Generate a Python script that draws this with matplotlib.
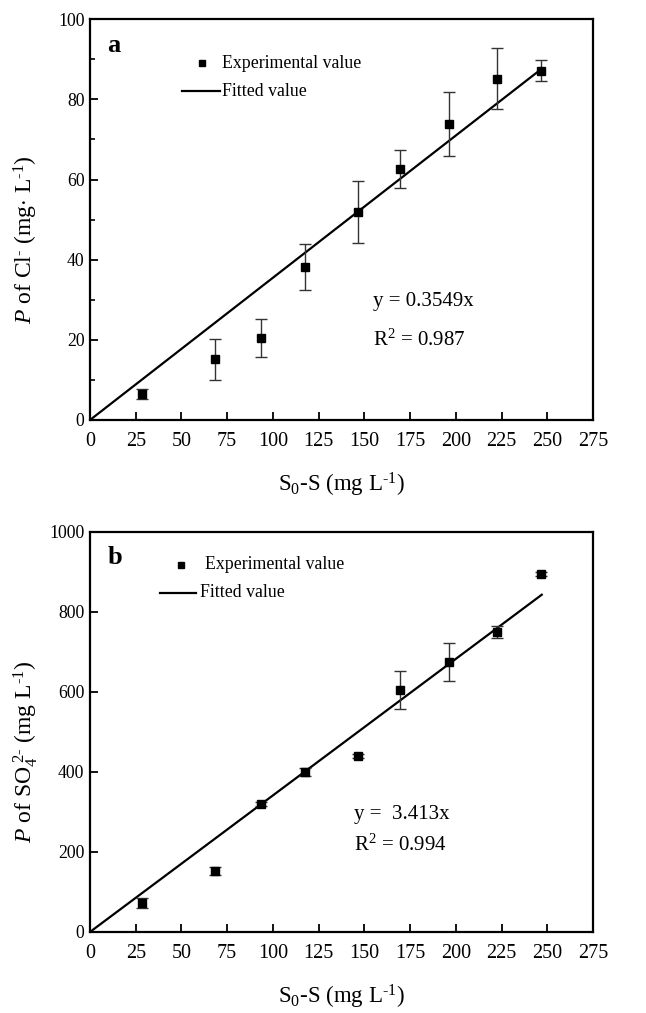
import numpy as np
import matplotlib.pyplot as plt

plt.rcParams['font.family'] = 'Liberation Serif'
plt.rcParams['mathtext.fontset'] = 'custom'
plt.rcParams['mathtext.rm'] = 'Liberation Serif'
plt.rcParams['mathtext.it'] = 'Liberation Serif:italic'
plt.rcParams['mathtext.bf'] = 'Liberation Serif:bold'

# data
x_vals = [28.3, 68.3, 93.5, 117.5, 146.5, 169.5, 196.5, 222.5, 246.5]
cl_vals = [6.5, 15.1, 20.5, 38.2, 51.9, 62.7, 73.8, 85.2, 87.2]
cl_err = [1.2, 5.1, 4.7, 5.8, 7.8, 4.7, 8.0, 7.7, 2.6]
so4_vals = [72, 152, 320, 400, 440, 605, 675, 750, 895]
so4_err = [12, 10, 6, 10, 5, 48, 47, 15, 4]
cl_slope = 0.3549
so4_slope = 3.413
fit_x = [0, 247]

x_ticks = list(range(0, 276, 25))

fig = plt.figure(figsize=(6.46, 10.13), dpi=100)
ax1 = fig.add_axes([0.1393, 0.5854, 0.7786, 0.3956])
ax2 = fig.add_axes([0.1393, 0.0800, 0.7786, 0.3949])

panels = [
    (ax1, cl_vals, cl_err, cl_slope, 100, 20, 10, 'a',
     r'$\it{P}$ of Cl$^{\text{-}}$ (mg$\cdot$ L$^{\text{-1}}$)',
     'y = 0.3549x', r'R$^{2}$ = 0.987', 0.563, 0.295, 0.198),
    (ax2, so4_vals, so4_err, so4_slope, 1000, 200, None, 'b',
     r'$\it{P}$ of SO$_{4}^{\ 2\text{-}}$ (mg L$^{\text{-1}}$)',
     'y =  3.413x', r'R$^{2}$ = 0.994', 0.525, 0.2925, 0.2175),
]

for ax, yv, ye, slope, ymax, ymaj, ymin, lab, ylab, eq, r2, ex, ey1, ey2 in panels:
    fx = np.array(fit_x, dtype=float)
    ax.plot(fx, slope * fx, color='black', lw=1.6, zorder=2)
    ax.errorbar(x_vals, yv, yerr=ye, fmt='s', color='black', ms=5.5,
                ecolor='#333333', elinewidth=1.0, capsize=4, capthick=1.0,
                zorder=3)
    ax.set_xlim(0, 275)
    ax.set_ylim(0, ymax)
    ax.set_xticks(x_ticks)
    ax.set_yticks(np.arange(0, ymax + 1, ymaj))
    if ymin:
        ax.set_yticks(np.arange(0, ymax + 1, ymin), minor=True)
    ax.tick_params(direction='in', length=6, width=1.3,
                   top=False, right=False)
    ax.tick_params(axis='x', labelsize=14.5, pad=9)
    ax.tick_params(axis='y', labelsize=12.8, pad=4)
    ax.tick_params(which='minor', direction='in', length=3.5, width=1.2)
    for s in ax.spines.values():
        s.set_linewidth(1.6)
    ax.set_xlabel(r'S$_{0}$-S (mg L$^{\text{-1}}$)', fontsize=16.5,
                  labelpad=14)
    ax.set_ylabel(ylab, fontsize=17, va='center')
    ax.yaxis.set_label_coords(-0.128, 0.45)
    ax.text(0.035, 0.935, lab, transform=ax.transAxes, fontsize=19,
            fontweight='bold', va='center')
    ax.text(ex, ey1, eq, transform=ax.transAxes, fontsize=15, va='center')
    ax.text(ex, ey2, r2, transform=ax.transAxes, fontsize=15, va='center')

# legends
ax1.plot([0.222], [0.89], 's', color='black', ms=4, transform=ax1.transAxes)
ax1.text(0.263, 0.89, 'Experimental value', transform=ax1.transAxes,
         fontsize=12.8, va='center')
ax1.plot([0.182, 0.258], [0.82, 0.82], color='black', lw=1.6,
         transform=ax1.transAxes)
ax1.text(0.262, 0.82, 'Fitted value', transform=ax1.transAxes,
         fontsize=12.8, va='center')

ax2.plot([0.18], [0.9175], 's', color='black', ms=4, transform=ax2.transAxes)
ax2.text(0.228, 0.9175, 'Experimental value', transform=ax2.transAxes,
         fontsize=12.8, va='center')
ax2.plot([0.14, 0.21], [0.8475, 0.8475], color='black', lw=1.6,
         transform=ax2.transAxes)
ax2.text(0.219, 0.8475, 'Fitted value', transform=ax2.transAxes,
         fontsize=12.8, va='center')

fig.savefig('out.png', dpi=100)
